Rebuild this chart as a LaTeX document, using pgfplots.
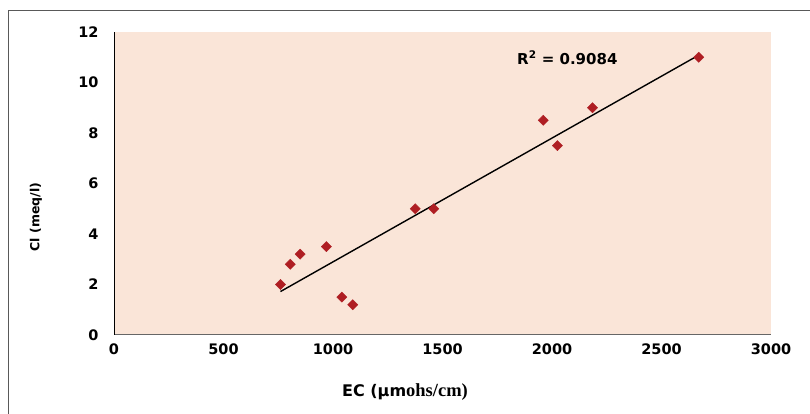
\documentclass[border=0pt]{standalone}
\usepackage{pgfplots}
\pgfplotsset{compat=1.18}
\usepackage{pgfplotstable}
\usepackage{fontspec}
\setmainfont{DejaVu Sans}
\newfontfamily\serifbf{Liberation Serif}

\definecolor{plotbg}{RGB}{250,229,216}
\definecolor{ptred}{RGB}{175,30,35}

\pgfplotstableread{
x y
760 2.0
805 2.8
850 3.2
970 3.5
1040 1.5
1090 1.2
1375 5.0
1460 5.0
1960 8.5
2025 7.5
2185 9.0
2670 11.0
}\ecdata

\begin{document}
\begin{tikzpicture}
% page frame (pixel coordinates in pt, y measured from the bottom)
\path[use as bounding box] (0pt,0pt) rectangle (810pt,414pt);
\draw[gray!70!black, line width=1pt] (8pt,0pt) -- (8pt,403pt) -- (810pt,403pt);

\begin{axis}[
    at={(114pt,79pt)}, anchor=south west,
    scale only axis,
    width=657pt, height=303pt,
    xmin=0, xmax=3000,
    ymin=0, ymax=12,
    xtick={0,500,...,3000},
    ytick={0,2,...,12},
    axis background/.style={fill=plotbg},
    axis x line*=bottom,
    axis y line*=left,
    x axis line style={gray!80!black, line width=1pt},
    y axis line style={black, line width=1pt},
    major tick length=0pt,
    tick label style={font=\fontsize{14.5}{16}\selectfont\bfseries},
    xticklabel style={yshift=-5pt},
    yticklabel style={xshift=-12pt},
    /pgf/number format/assume math mode=true,
    /pgf/number format/1000 sep={},
    clip=false,
]
    \addplot[only marks, mark=square*, mark size=3.6pt,
        mark options={rotate=45},
        color=ptred, fill=ptred] table[x=x, y=y] {\ecdata};

    \addplot[black, line width=1.4pt, no marks]
        table[x=x, y={create col/linear regression={y=y}}] {\ecdata};

    \node[font=\fontsize{15}{16}\selectfont\bfseries] at (axis cs:2070,10.98) {R\textsuperscript{2} = 0.9084};
\end{axis}

\node[rotate=90, font=\fontsize{12.5}{14}\selectfont\bfseries] at (36pt,197pt) {Cl (meq/l)};
\node[font=\fontsize{16}{18}\selectfont\bfseries] at (405pt,22pt) {EC (\textmu m{\serifbf\fontsize{18.5}{20}\selectfont ohs/cm)}};
\end{tikzpicture}
\end{document}
